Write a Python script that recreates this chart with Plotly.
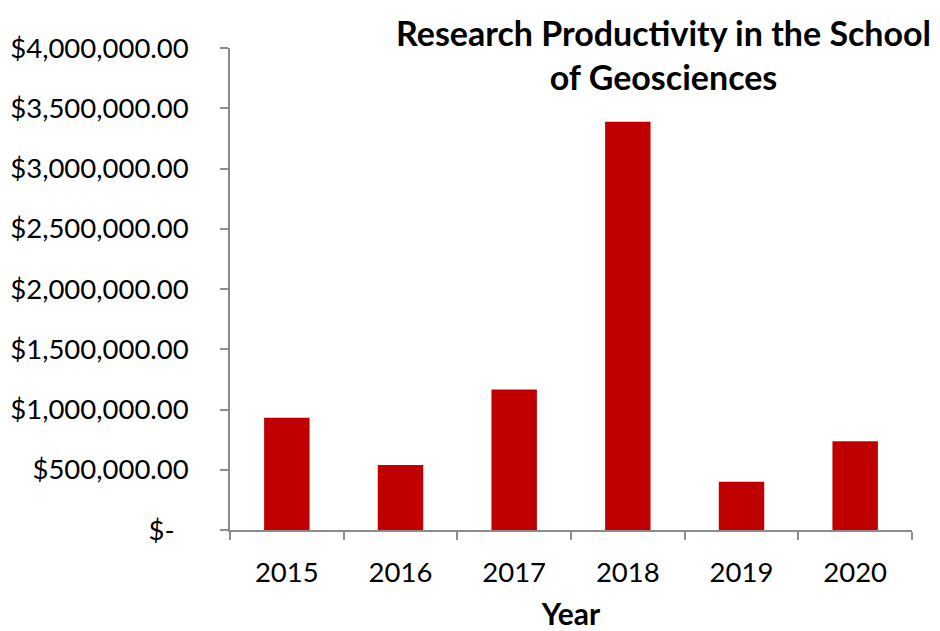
import plotly.graph_objects as go

years = ["2015", "2016", "2017", "2018", "2019", "2020"]
funding = [932000, 540000, 1165000, 3389000, 401000, 737000]
y_tick_vals = [0, 500000, 1000000, 1500000, 2000000, 2500000, 3000000, 3500000, 4000000]
y_tick_text = ["$-\u00a0\u00a0", "$500,000.00", "$1,000,000.00", "$1,500,000.00", "$2,000,000.00",
               "$2,500,000.00", "$3,000,000.00", "$3,500,000.00", "$4,000,000.00"]
title_text = "Research Productivity in the School<br>of Geosciences"

FONT = "Lato, Calibri, Carlito, sans-serif"
AXIS_COLOR = "#8c8c8c"

fig = go.Figure(go.Bar(x=years, y=funding, marker=dict(color="#c00000", line=dict(width=0))))

fig.update_layout(
    width=932, height=623,
    margin=dict(l=222, r=28, t=40, b=101, autoexpand=False),
    paper_bgcolor="white", plot_bgcolor="white",
    bargap=0.6,
    showlegend=False,
    font=dict(family=FONT, size=27.5, color="#000000"),
    annotations=[dict(
        text="<b>" + title_text + "</b>",
        xref="paper", yref="paper", x=0.635, y=1.0, yshift=38,
        xanchor="center", yanchor="top", showarrow=False,
        font=dict(family=FONT, size=34, color="#000000"), align="center",
    )],
)

fig.update_xaxes(
    type="category", automargin=False,
    showline=True, linecolor=AXIS_COLOR, linewidth=1.5,
    ticks="outside", tickson="boundaries", ticklen=8, tickcolor=AXIS_COLOR, tickwidth=1.5,
    showgrid=False, zeroline=False,
    ticklabelstandoff=17,
    title=dict(text="<b>Year</b>", font=dict(family=FONT, size=30), standoff=17),
)

fig.update_yaxes(
    range=[0, 4000000], automargin=False,
    tickvals=y_tick_vals, ticktext=y_tick_text,
    showline=True, linecolor=AXIS_COLOR, linewidth=1.5,
    ticks="outside", ticklen=8, tickcolor=AXIS_COLOR, tickwidth=1.5,
    showgrid=False, zeroline=False,
    ticklabelstandoff=26,
)

fig.write_html("out.html")
